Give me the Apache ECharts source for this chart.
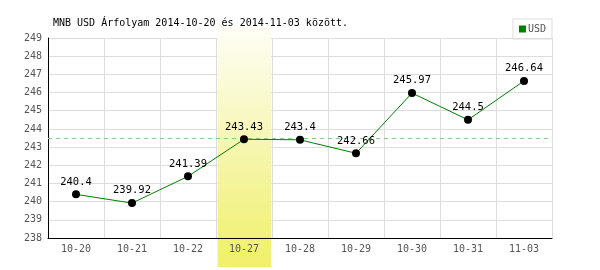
<!DOCTYPE html>
<html><head><meta charset="utf-8">
<script src="https://cdn.jsdelivr.net/npm/echarts@6/dist/echarts.min.js"></script>
<style>html,body{margin:0;padding:0;background:#fff}#c{width:600px;height:270px}</style>
</head><body><div id="c"></div>
<script>
const titleText = 'MNB USD Árfolyam 2014-10-20 és 2014-11-03 között.';
const categories = ['10-20','10-21','10-22','10-27','10-28','10-29','10-30','10-31','11-03'];
const usdValues = [240.4, 239.92, 241.39, 243.43, 243.4, 242.66, 245.97, 244.5, 246.64];
const refLineValue = 243.48;
const highlightIndex = 3;
const yMin = 238, yMax = 249, yInterval = 1;

const mono = '"DejaVu Sans Mono", "Liberation Mono", monospace';
const chart = echarts.init(document.getElementById('c'), null, {renderer:'canvas'});
chart.setOption({
  animation: false,
  backgroundColor: '#fff',
  title: {text: titleText, left: 48, top: 13, z: 3, textStyle: {fontFamily: mono, fontSize: 10, fontWeight: 'normal', color: '#000'}},
  legend: {
    right: 48, top: 19, padding: [5,6,5,6], borderColor: '#ddd', borderWidth: 1,
    icon: 'rect', itemWidth: 7, itemHeight: 7, itemGap: 2,
    textStyle: {fontFamily: mono, fontSize: 10, color: '#555', padding: [0,0,0,-3]},
    data: [{name: 'USD', itemStyle: {color: '#008000'}}]
  },
  grid: {left: 48, right: 48, top: 38, bottom: 32},
  xAxis: [{
    type: 'category', data: categories, boundaryGap: true, z: 0,
    axisLine: {show: false}, axisTick: {show: false}, axisLabel: {show: false},
    splitLine: {show: true, lineStyle: {color: '#ddd'}}
  }, {
    type: 'category', data: categories, boundaryGap: true, position: 'bottom', z: 3,
    axisLine: {show: true, onZero: false, lineStyle: {color: '#000', width: 1}},
    axisTick: {show: false},
    axisLabel: {fontFamily: mono, fontSize: 10, color: '#555', margin: 6},
    splitLine: {show: false}
  }],
  yAxis: {
    type: 'value', min: yMin, max: yMax, interval: yInterval, z: 0,
    axisLine: {show: true, lineStyle: {color: '#000', width: 1}},
    axisTick: {show: false},
    axisLabel: {fontFamily: mono, fontSize: 10, color: '#555', margin: 6},
    splitLine: {lineStyle: {color: '#ddd'}}
  },
  series: [{
    name: 'USD', type: 'line', data: usdValues, xAxisIndex: 0,
    symbol: 'circle', symbolSize: 8,
    itemStyle: {color: '#000'},
    lineStyle: {color: '#008000', width: 1},
    label: {show: true, position: 'top', distance: 3, fontFamily: mono, fontSize: 10.5, color: '#000'},
    markLine: {
      silent: true, symbol: 'none', label: {show: false},
      lineStyle: {color: '#88cc88', type: [4,4], width: 1},
      data: [{yAxis: refLineValue}]
    },
    z: 5
  }]
});

function drawBand(){
  const p0 = chart.convertToPixel({xAxisIndex:0}, categories[highlightIndex]);
  const pA = chart.convertToPixel({xAxisIndex:0}, categories[0]);
  const pB = chart.convertToPixel({xAxisIndex:0}, categories[1]);
  const bw = pB - pA;
  chart.setOption({graphic: [{
    type: 'rect', z: 1, silent: true,
    shape: {x: p0 - bw/2 + 1.5, y: 27, width: bw - 2.5, height: 240},
    style: {fill: new echarts.graphic.LinearGradient(0,0,0,1,[
      {offset:0, color:'#fefef6'},{offset:0.5, color:'#f6f6b0'},{offset:1, color:'#f0f068'}])}
  }]});
}
drawBand();
</script></body></html>
